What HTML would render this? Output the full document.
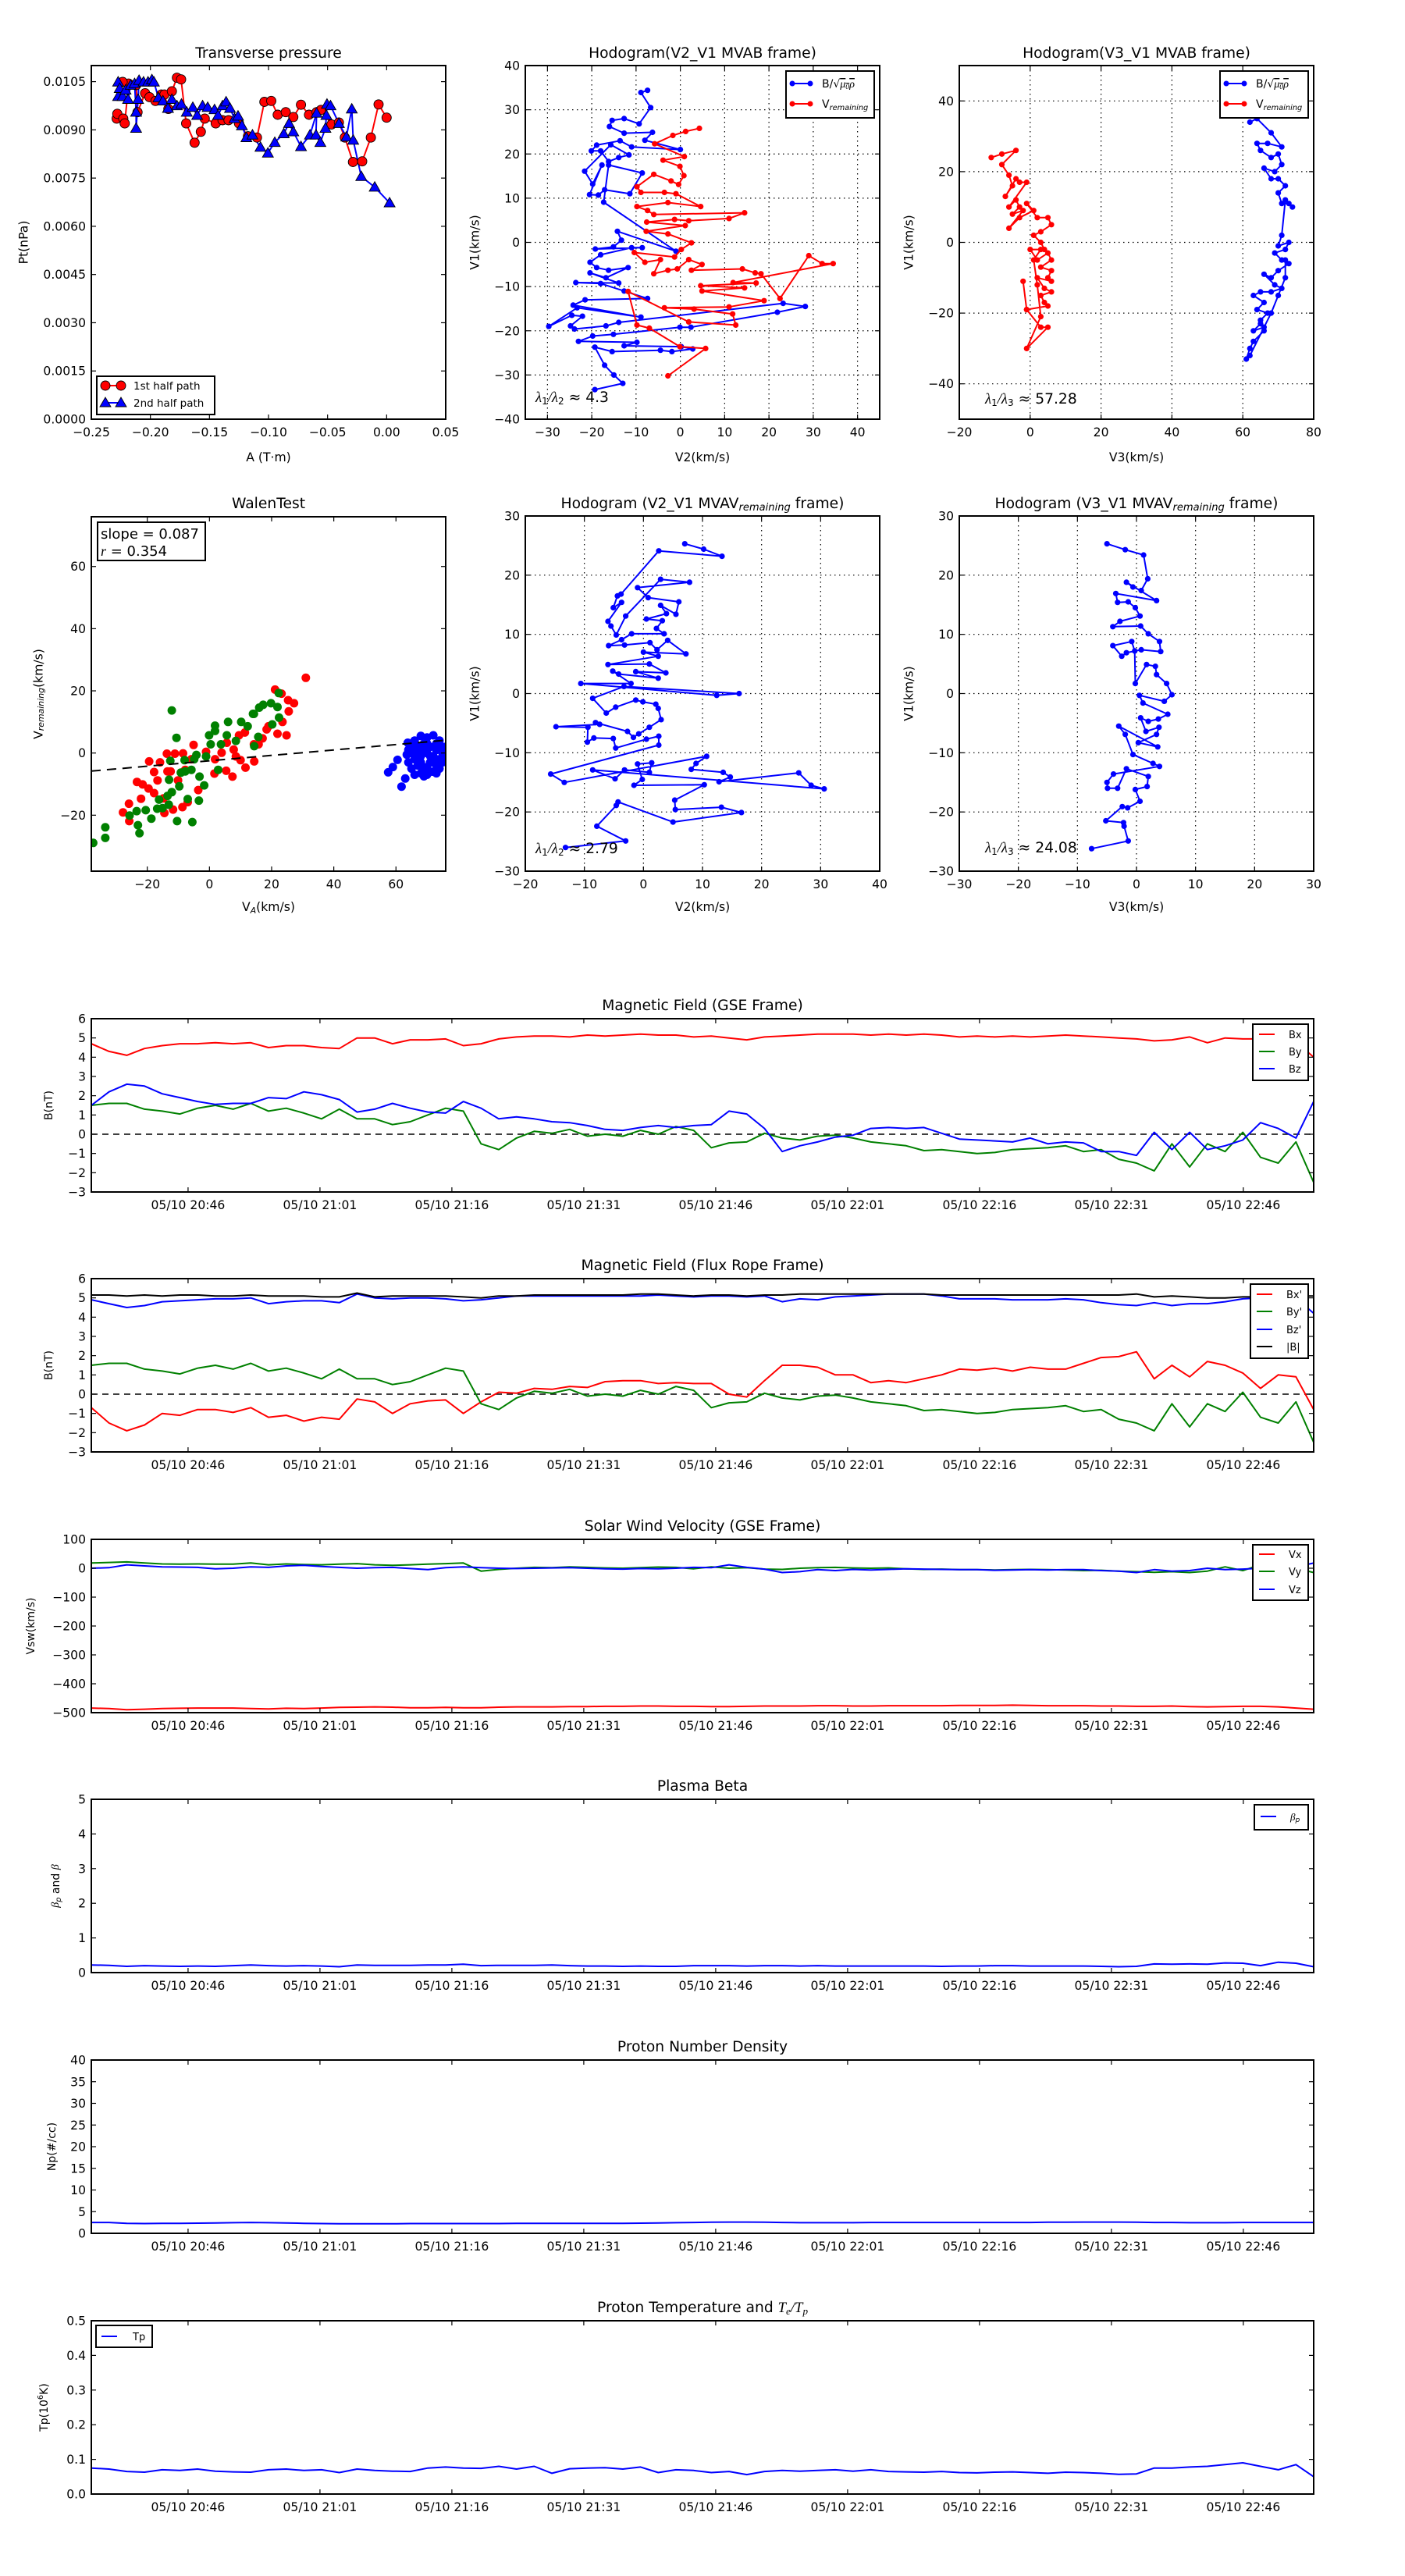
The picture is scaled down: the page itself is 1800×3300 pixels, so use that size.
<!DOCTYPE html>
<html><head><meta charset="utf-8"><style>
html,body{margin:0;padding:0;background:#fff;}
svg{display:block;font-family:"DejaVu Sans","Liberation Sans",sans-serif;}
</style></head><body>
<svg id="fig" xmlns="http://www.w3.org/2000/svg" width="1800" height="3300" viewBox="0 0 1800 3300"><defs id="defs"></defs><rect width="1800" height="3300" fill="#fff"/></svg>
<script>
// ---------- data: transverse pressure ----------
const ptA1=[-0.2285,-0.228,-0.223,-0.2217,-0.2184,-0.2235,-0.2121,-0.2109,-0.2045,-0.2008,-0.1957,-0.1907,-0.1881,-0.1848,-0.1818,-0.1775,-0.174,-0.1697,-0.1626,-0.1573,-0.154,-0.1447,-0.1389,-0.1338,-0.125,-0.1174,-0.1098,-0.1035,-0.0977,-0.0922,-0.0854,-0.079,-0.0725,-0.0657,-0.0593,-0.0556,-0.0467,-0.0404,-0.0354,-0.0285,-0.0207,-0.0134,-0.0068,0.0];
const ptP1=[0.00935,0.0095,0.00935,0.0092,0.01044,0.01049,0.01039,0.00955,0.01014,0.01002,0.0099,0.0101,0.0101,0.00965,0.0102,0.01062,0.01057,0.0092,0.0086,0.00894,0.00935,0.0092,0.0093,0.0093,0.0092,0.0088,0.00876,0.00987,0.0099,0.00947,0.00955,0.0094,0.00978,0.00947,0.00955,0.00962,0.00917,0.00923,0.00876,0.008,0.00802,0.00876,0.00979,0.00938];
const ptA2=[-0.2273,-0.2273,-0.226,-0.2235,-0.221,-0.2189,-0.2167,-0.2134,-0.2121,-0.2121,-0.2104,-0.2096,-0.2058,-0.202,-0.1987,-0.197,-0.1932,-0.1894,-0.1851,-0.1818,-0.1775,-0.1737,-0.1692,-0.1641,-0.1604,-0.1558,-0.1515,-0.1457,-0.1427,-0.1389,-0.1359,-0.1326,-0.1288,-0.1258,-0.1225,-0.1187,-0.1136,-0.1068,-0.1005,-0.0947,-0.0871,-0.0826,-0.079,-0.0725,-0.0649,-0.0593,-0.0598,-0.0561,-0.0518,-0.051,-0.0505,-0.0475,-0.0404,-0.0341,-0.0295,-0.0283,-0.0215,-0.0101,0.0025];
const ptP2=[0.01049,0.01004,0.01029,0.01004,0.01024,0.00995,0.01039,0.01044,0.00955,0.00905,0.00995,0.01054,0.01049,0.01049,0.01056,0.01049,0.01,0.0099,0.00967,0.00995,0.00975,0.0098,0.00955,0.0097,0.00945,0.00975,0.0097,0.00963,0.00945,0.00975,0.00987,0.00967,0.00935,0.00943,0.00913,0.00876,0.00884,0.00846,0.00828,0.00861,0.00888,0.0092,0.00894,0.00848,0.00884,0.00952,0.00884,0.00861,0.00905,0.00945,0.0098,0.00975,0.0092,0.00878,0.00965,0.00868,0.00755,0.00722,0.00673];
// ---------- hodogram V2_V1 MVAB ----------
const h1BlueX=[-7.4,-8.9,-6.7,-9.3,-12.7,-15.4,-16.0,-12.7,-6.3,-8.0,0,-11.0,-13.6,-18.9,-20.1,-18.0,-16.2,-13.9,-11.6,-15.7,-21.6,-19.8,-17.7,-20.5,-18.5,-17.1,-11.4,-8.6,-16.2,-17.3,-1.0,-14.2,-13.3,-15.1,-19.2,-8.6,-11.0,-18.0,-20.4,-18.9,-16.2,-11.8,-16.8,-20.4,-13.9,-23.6,-18.0,-12.7,-7.4,-21.5,-24.2,-8.9,-23.3,-29.7,-24.5,-22.1,-24.8,-23.9,-16.8,-13.9,23.2,28.2,21.9,2.4,-0.1,-15.1,-19.8,-23.0,-9.8,-12.7,0.2,2.8,-1.9,-4.5,-15.4,-19.3,-17.1,-15.0,-13.0,-19.3];
const h1BlueY=[34.4,33.9,30.5,26.8,28.0,27.6,26.2,24.7,24.9,23.1,21.0,21.6,23.0,22.0,20.7,20.7,18.3,19.2,19.8,22.1,16.1,13.2,17.5,10.8,10.7,11.9,11.0,15.7,17.5,9.1,-2.0,2.5,0.5,-1.0,-1.5,-1.2,-1.2,-2.8,-4.5,-5.7,-6.3,-5.7,-8.0,-6.9,-9.2,-9.1,-9.3,-11.0,-12.7,-13.0,-14.2,-16.9,-14.8,-19.0,-16.5,-16.7,-18.9,-19.6,-18.9,-18.1,-13.8,-14.5,-15.8,-19.2,-19.2,-20.8,-21.2,-22.4,-22.6,-23.4,-23.6,-24.1,-24.7,-24.4,-24.7,-23.7,-27.8,-30.0,-31.9,-33.3];
const h1RedX=[4.3,1.2,-1.7,-5.8,0.9,-3.9,-0.1,0.8,-0.4,-2.1,-6.0,-9.8,-8.9,-3.6,-1.0,4.6,-2.8,-9.8,-7.4,-6.0,14.5,11.0,1.9,-1.3,-7.6,1.1,-7.7,-2.8,2.5,0.2,-1.3,-10.4,-8.0,-4.5,-6.0,-2.8,-0.7,1.9,4.9,2.5,14.0,16.9,18.2,22.5,29.0,32.0,34.5,11.9,17.1,4.6,14.5,4.9,18.9,11.0,-3.6,3.1,11.8,12.5,1.9,-11.8,-9.8,-7.0,-0.1,5.7,-2.8];
const h1RedY=[25.8,25.1,24.2,22.3,19.4,18.6,17.2,15.1,13.1,13.9,15.4,12.6,11.3,11.3,11.0,8.1,9.0,8.1,7.2,6.3,6.7,5.4,4.9,5.2,4.6,3.8,2.5,1.9,-0.1,-1.6,-3.3,-2.3,-4.5,-3.9,-7.1,-6.3,-6.0,-3.9,-5.0,-6.3,-6.0,-6.9,-7.1,-12.7,-3.0,-4.8,-4.8,-9.1,-9.2,-9.8,-10.3,-11.0,-13.2,-14.6,-14.8,-15.1,-16.2,-18.7,-18.0,-11.1,-18.7,-19.4,-23.6,-24.0,-30.2];
// ---------- hodogram V3_V1 MVAB ----------
const h2RedX=[-11,-8,-4,-8,-6,-5,-7,-4,-3,-1,-6,-4,-3,-5,-2,-6,-3,1,-1,2,5,6,3,1,3,4,0,2,5,6,3,6,5,6,2,4,6,3,4,5,-1,-2,-1,3,5,-1,3,2,1,3];
const h2RedY=[24,25,26,22,19,16,13,18,17,17,10,12,10,8,9,4,7,9,11,7,7,5,3,2,0,-2,-2,-5,-3,-5,-7,-8,-10,-11,-10,-13,-14,-15,-17,-18,-19,-11,-19,-24,-24,-30,-21,-12,-5,-2];
const h2BlueX=[62,64,68,71,67,64,65,68,70,71,69,66,68,70,72,70,71,73,74,72,71,70,73,72,69,71,73,70,68,66,69,71,68,65,63,66,64,67,65,66,63,65,66,63,62,61,62,68,70,72,72];
const h2BlueY=[34,35,31,27,28,28,26,24,25,22,20,21,18,18,16,14,11,11,10,12,2,-1,0,-2,-3,-5,-6,-8,-10,-9,-12,-13,-14,-14,-15,-17,-19,-20,-22,-24,-25,-23,-25,-28,-30,-33,-32,-20,-15,-10,-5];
// ---------- Walen test ----------
const walRedX=[31,21.1,23.2,25.3,27.2,25.5,23.5,21.9,24.8,18.4,15.8,14.4,11.6,10.0,7.4,5.4,1.6,7.8,9.5,5.6,3.9,-5.1,-3.6,-8.5,-11.1,-13.7,-19.4,-15.9,-17.8,-16.7,-23.3,-21.5,-19.6,-17.8,-22.0,-25.9,-27.8,-25.8,-14.5,-11.7,-8.7,-7.0,-10.1,-12.5,-7.8,-5.8,-1.1,1.8,14.3,17.1,19.0,11.4,8.5,-13.5,-14.8];
const walRedY=[24.2,20.4,19.1,17.0,16.0,13.4,10.0,6.2,5.7,7.6,2.8,-2.7,-4.7,-2.3,-7.6,-5.7,-6.6,1.1,5.7,3.3,0.1,2.6,-11.9,-0.1,-0.2,-0.2,-2.7,-3.0,-6.1,-8.8,-9.3,-10.1,-11.4,-12.9,-14.7,-16.3,-19.1,-21.9,-19.3,-18.2,-17.4,-15.8,-8.8,-5.9,-5.4,-2.0,0.4,-2.0,2.8,4.7,8.6,6.6,-1.1,-5.9,-14.6];
const walGreenX=[-37.4,-33.5,-33.5,-25.7,-23.4,-23.0,-22.5,-20.5,-18.7,-16.2,-15.1,-13.1,-10.4,-5.5,-3.4,-7.0,-9.7,-13.0,-12.1,-1.7,-3.2,-12.1,-10.6,-12.6,-8.0,-9.2,-5.8,-4.2,-1.1,0.4,2.8,1.8,1.8,6.0,3.7,8.5,10.2,14.0,14.3,16.0,17.3,14.4,15.7,20.2,22.4,21.9,22.3,19.8,-0.1,5.6,12.3,-4.9,-7.8,-13.5,-16.8];
const walGreenY=[-28.9,-23.9,-27.3,-20.1,-18.7,-23.2,-25.8,-18.4,-21.1,-15.0,-17.7,-16.6,-21.9,-22.2,-15.3,-14.8,-10.7,-8.6,-12.6,-10.4,-7.6,13.7,4.9,-2.5,-2.3,-6.3,-5.4,-0.6,-1.1,2.8,-5.4,8.8,7.1,10.0,2.8,3.9,10.0,12.6,12.6,14.6,15.5,2.2,5.2,9.2,11.4,14.8,19.3,16.0,5.7,5.7,8.6,-2.0,-5.9,-13.8,-17.9];
const walBlueX=[57.5,59,60.5,63,61.8,63.5,63.8,66,68,70,72,74,75,73,71,69,67,65,66,68,70,72,74,75,73,71,69,67,65,66,68,70,72,74,76,76,69,71,67,64,70,73,68,70,72,75,66,64,69,71,73];
const walBlueY=[-6.2,-4.5,-2.2,-8.2,-10.8,-0.5,3.3,4,5.5,5,5.7,4,2,1,2,3,2,0,-2,-1,0,-1,-2,0,-4,-3,-5,-4,-5,-7,-6.5,-7,-6,-5,-1,2,1,-1,0,1,3,3,-3,-4.5,-3,-3,2,-3,-7.5,-6,-6.5];
const walSlope=0.087, walIntercept=-2.5;
// ---------- hodogram MVAV (V2_V1) ----------
const h3X=[7.0,10.2,13.3,2.6,-3.8,-4.4,-5.1,-3.7,-6.0,-5.5,-4.6,-3.0,2.9,7.8,-1.0,0.8,6.0,5.5,2.9,3.9,0.5,3.2,2.2,3.5,-2.0,-3.7,-5.9,-3.2,1.1,2.3,4.1,7.2,0,2.5,-6.0,1.0,3.8,-1.3,2.5,-4.2,-5.2,-2.1,-10.6,12.4,16.2,-3.3,-8.6,-6.3,-4.7,-1.3,-0.1,2.1,2.5,3.0,1.0,-0.8,-1.7,-2.7,-8.1,-7.4,-14.8,-9.4,-9.5,-8.4,-5.1,-4.7,0.5,2.6,2.6,-15.7,-13.4,10.7,8.9,8.1,13.5,14.7,12.8,26.3,28.4,30.6,-8.6,-4.8,-3.2,1.0,1.4,-1.0,-0.2,-1.6,10.3,5.3,5.4,13.2,16.6,5.0,-4.3,-4.6,-7.9,-3.0,-13.2];
const h3Y=[25.3,24.4,23.2,24.1,16.8,16.5,14.5,15.4,12.2,11.4,9.9,13.1,19.3,18.8,17.9,16.2,15.5,13.4,14.9,13.5,12.6,12.3,11.0,10.1,10.1,9.1,8.1,8.2,8.6,7.4,9.0,6.7,7.0,6.3,4.9,5.0,3.5,3.7,2.6,3.3,3.8,1.7,1.7,-0.3,0,1.2,-0.8,-3.3,-2.3,-1.1,-1.4,-1.8,-2.5,-4.4,-5.7,-6.8,-7.4,-6.4,-4.9,-5.2,-5.6,-5.7,-8.2,-7.5,-7.6,-9.2,-7.7,-7.2,-8.7,-13.6,-15.0,-10.6,-11.8,-12.8,-13.3,-14.1,-14.9,-13.4,-15.5,-16.1,-12.9,-14.4,-12.9,-13.3,-11.7,-11.9,-14.5,-15.5,-15.4,-18.0,-19.6,-19.2,-20.1,-21.7,-18.3,-18.9,-22.4,-24.9,-26.0];
// ---------- hodogram MVAV (V3_V1) ----------
const h4X=[-5.0,-1.9,1.2,1.9,0.8,-0.6,-1.7,3.4,-3.5,-3.2,-1.4,-0.2,0.6,-2.8,-4.0,0.7,2.0,3.9,4.1,0.8,-1.7,-2.5,-4.0,-0.8,-0.3,-0.2,1.7,3.2,3.4,5.1,6.0,4.7,0.5,1.1,5.3,3.7,2.0,0.7,1.6,3.8,3.4,0.3,3.6,-3.0,-1.9,-0.6,2.8,3.9,-3.9,-5.0,-4.9,-3.2,-1.7,2.0,1.8,-0.2,0.6,-1.5,-2.4,-5.2,-2.2,-2.1,-1.4,-7.6];
const h4Y=[25.3,24.3,23.4,19.4,17.4,18.0,18.8,15.7,16.9,15.4,15.5,14.5,13.1,12.2,11.3,11.4,10.1,8.8,7.1,7.4,6.9,6.3,8.1,8.8,7.2,1.7,4.9,4.6,3.2,1.7,-0.2,-1.3,-0.3,-1.6,-3.5,-4.3,-4.7,-4.1,-6.4,-5.7,-6.9,-8.3,-9.0,-5.5,-6.9,-10.3,-11.8,-12.3,-13.6,-15.0,-16.0,-16.0,-12.7,-14.0,-15.7,-16.2,-18.2,-19.3,-19.1,-21.5,-21.8,-22.4,-24.9,-26.2];
// ---------- time series ----------
const tickTimes=[11,26,41,56,71,86,101,116,131];
const tickLabels=["05/10 20:46","05/10 21:01","05/10 21:16","05/10 21:31","05/10 21:46","05/10 22:01","05/10 22:16","05/10 22:31","05/10 22:46"];
const bxGse=[4.7,4.3,4.1,4.45,4.6,4.7,4.7,4.75,4.7,4.75,4.5,4.6,4.6,4.5,4.45,5.0,5.0,4.7,4.9,4.9,4.95,4.6,4.7,4.95,5.05,5.1,5.1,5.05,5.15,5.1,5.15,5.2,5.15,5.15,5.05,5.1,5.0,4.9,5.05,5.1,5.15,5.2,5.2,5.2,5.15,5.2,5.15,5.2,5.15,5.05,5.1,5.05,5.1,5.05,5.1,5.15,5.1,5.05,5.0,4.95,4.85,4.9,5.05,4.75,5.0,4.95,4.95,4.95,4.8,4.0];
const byGse=[1.5,1.6,1.6,1.3,1.2,1.05,1.35,1.5,1.3,1.6,1.2,1.35,1.1,0.8,1.3,0.8,0.8,0.5,0.65,1.0,1.35,1.2,-0.5,-0.8,-0.2,0.15,0.05,0.25,-0.1,0.0,-0.1,0.2,0.0,0.4,0.2,-0.7,-0.45,-0.4,0.05,-0.2,-0.3,-0.1,-0.05,-0.2,-0.4,-0.5,-0.6,-0.85,-0.8,-0.9,-1.0,-0.95,-0.8,-0.75,-0.7,-0.6,-0.9,-0.8,-1.3,-1.5,-1.9,-0.5,-1.7,-0.5,-0.9,0.1,-1.2,-1.5,-0.4,-2.5];
const bzGse=[1.5,2.2,2.6,2.5,2.1,1.9,1.7,1.55,1.6,1.6,1.9,1.85,2.2,2.05,1.8,1.15,1.3,1.6,1.35,1.15,1.1,1.7,1.35,0.8,0.9,0.8,0.65,0.6,0.45,0.25,0.2,0.35,0.45,0.35,0.45,0.5,1.2,1.05,0.3,-0.9,-0.6,-0.4,-0.15,-0.05,0.3,0.35,0.3,0.35,0.05,-0.25,-0.3,-0.35,-0.4,-0.2,-0.5,-0.4,-0.45,-0.9,-0.9,-1.1,0.1,-0.8,0.1,-0.8,-0.6,-0.3,0.6,0.3,-0.2,1.7];
const bxFr=[-0.7,-1.5,-1.9,-1.6,-1.0,-1.1,-0.8,-0.8,-0.95,-0.7,-1.2,-1.1,-1.4,-1.2,-1.3,-0.25,-0.4,-1.0,-0.5,-0.35,-0.3,-1.0,-0.4,0.1,0.05,0.3,0.25,0.4,0.35,0.65,0.7,0.7,0.55,0.6,0.55,0.55,0.0,-0.15,0.7,1.5,1.5,1.4,1.0,1.0,0.6,0.7,0.6,0.8,1.0,1.3,1.25,1.35,1.2,1.4,1.3,1.3,1.6,1.9,1.95,2.2,0.8,1.5,0.9,1.7,1.5,1.1,0.3,1.0,0.9,-0.8];
const byFr=[1.5,1.6,1.6,1.3,1.2,1.05,1.35,1.5,1.3,1.6,1.2,1.35,1.1,0.8,1.3,0.8,0.8,0.5,0.65,1.0,1.35,1.2,-0.5,-0.8,-0.2,0.15,0.05,0.25,-0.1,0.0,-0.1,0.2,0.0,0.4,0.2,-0.7,-0.45,-0.4,0.05,-0.2,-0.3,-0.1,-0.05,-0.2,-0.4,-0.5,-0.6,-0.85,-0.8,-0.9,-1.0,-0.95,-0.8,-0.75,-0.7,-0.6,-0.9,-0.8,-1.3,-1.5,-1.9,-0.5,-1.7,-0.5,-0.9,0.1,-1.2,-1.5,-0.4,-2.5];
const bzFr=[4.9,4.7,4.5,4.6,4.8,4.85,4.9,4.95,4.95,5.0,4.7,4.8,4.85,4.85,4.75,5.2,5.0,4.95,5.0,5.0,4.95,4.85,4.9,5.0,5.1,5.1,5.1,5.1,5.1,5.1,5.1,5.1,5.15,5.1,5.05,5.1,5.1,5.05,5.1,4.8,4.95,4.9,5.05,5.1,5.15,5.2,5.2,5.2,5.1,4.95,4.95,4.95,4.9,4.9,4.9,4.95,4.9,4.75,4.65,4.6,4.75,4.6,4.7,4.7,4.8,4.95,5.0,5.0,5.0,4.2];
const bMag=[5.15,5.15,5.1,5.15,5.1,5.15,5.15,5.1,5.1,5.15,5.1,5.1,5.1,5.05,5.05,5.25,5.05,5.1,5.1,5.1,5.1,5.05,5.0,5.1,5.1,5.15,5.15,5.15,5.15,5.15,5.15,5.2,5.2,5.15,5.1,5.15,5.15,5.1,5.15,5.15,5.2,5.2,5.2,5.2,5.2,5.2,5.2,5.2,5.15,5.15,5.15,5.15,5.15,5.15,5.15,5.15,5.15,5.15,5.15,5.2,5.05,5.1,5.05,5.0,5.0,5.05,5.05,5.1,5.1,5.1];
const vx=[-484,-486,-490,-488,-486,-485,-484,-484,-484,-486,-487,-485,-486,-484,-482,-481,-480,-481,-483,-483,-482,-483,-483,-481,-480,-480,-480,-479,-479,-478,-478,-477,-477,-478,-478,-479,-479,-478,-477,-477,-477,-476,-476,-477,-477,-476,-476,-476,-476,-475,-475,-475,-474,-475,-476,-476,-476,-477,-477,-478,-478,-477,-479,-480,-479,-478,-478,-480,-484,-488];
const vy=[18,20,22,18,15,14,15,14,14,18,12,15,13,12,14,16,12,10,12,14,16,18,-10,-4,0,3,2,5,3,1,0,2,4,3,-2,5,0,2,-3,-4,0,2,3,1,0,1,-2,-4,-3,-5,-5,-6,-5,-4,-5,-6,-8,-7,-10,-12,-14,-12,-15,-10,5,-8,12,-5,0,-15];
const vz=[0,2,12,8,5,4,3,-2,0,5,3,8,10,6,3,0,2,3,-1,-5,2,5,2,0,-1,0,1,2,0,-2,-3,-1,-2,0,3,2,12,3,-3,-15,-12,-5,-8,-4,-6,-4,-2,-3,-4,-5,-5,-7,-6,-5,-6,-5,-5,-8,-10,-15,-5,-10,-8,0,-5,-3,0,8,5,18];
const betaP=[0.22,0.21,0.18,0.2,0.19,0.18,0.19,0.18,0.2,0.22,0.2,0.19,0.2,0.19,0.17,0.22,0.21,0.21,0.21,0.22,0.22,0.24,0.2,0.21,0.21,0.21,0.22,0.2,0.19,0.19,0.18,0.19,0.18,0.18,0.2,0.2,0.2,0.19,0.2,0.2,0.19,0.2,0.19,0.19,0.19,0.19,0.19,0.19,0.18,0.19,0.19,0.2,0.2,0.19,0.19,0.19,0.19,0.18,0.17,0.18,0.25,0.24,0.25,0.24,0.28,0.27,0.2,0.3,0.27,0.17];
const np=[2.5,2.5,2.3,2.25,2.3,2.3,2.35,2.4,2.45,2.5,2.45,2.4,2.3,2.25,2.2,2.2,2.2,2.2,2.25,2.25,2.25,2.25,2.25,2.25,2.3,2.3,2.3,2.3,2.3,2.3,2.3,2.35,2.4,2.45,2.5,2.55,2.6,2.6,2.55,2.5,2.45,2.45,2.45,2.45,2.5,2.5,2.5,2.5,2.5,2.5,2.5,2.5,2.5,2.5,2.55,2.55,2.6,2.6,2.6,2.55,2.5,2.5,2.45,2.45,2.45,2.5,2.5,2.5,2.5,2.5];
const tp=[0.075,0.072,0.065,0.063,0.07,0.068,0.072,0.066,0.064,0.063,0.07,0.072,0.068,0.07,0.062,0.072,0.068,0.066,0.065,0.075,0.078,0.075,0.074,0.08,0.072,0.08,0.06,0.073,0.075,0.076,0.072,0.078,0.062,0.07,0.068,0.062,0.065,0.056,0.065,0.068,0.066,0.068,0.07,0.066,0.07,0.065,0.064,0.063,0.065,0.062,0.061,0.063,0.064,0.062,0.06,0.063,0.062,0.06,0.057,0.058,0.075,0.075,0.078,0.08,0.085,0.09,0.08,0.07,0.085,0.05];

// ---------- helpers ----------
const NS='http://www.w3.org/2000/svg';
const svg=document.getElementById('fig');
const defs=document.getElementById('defs');
function add(parent,tag,attrs,text){const e=document.createElementNS(NS,tag);for(const k in attrs)e.setAttribute(k,attrs[k]);if(text!==undefined)e.textContent=text;parent.appendChild(e);return e;}
function fmtNum(v,d){const s=Math.abs(v).toFixed(d);return (v<-1e-12?'\u2212':'')+s;}
let clipN=0;
function mkAxes(name,L,R,T,B,xmin,xmax,ymin,ymax){
  const g=add(svg,'g',{});
  
  
  const id='clip'+(clipN++);
  const cp=add(defs,'clipPath',{id:id});add(cp,'rect',{x:L,y:T,width:R-L,height:B-T});
  const under=add(g,'g',{});
  const plot=add(g,'g',{'clip-path':'url(#'+id+')'});
  
  
  const over=add(g,'g',{});
  return {g,under,plot,over,L,R,T,B,sx:v=>L+(v-xmin)/(xmax-xmin)*(R-L),sy:v=>B-(v-ymin)/(ymax-ymin)*(B-T)};
}
function axisTicks(ax,xt,xl,yt,yl,grid,fs){
  fs=fs||15.6;
  xt.forEach((v,i)=>{const x=ax.sx(v);
    if(grid)add(ax.under,'line',{x1:x,x2:x,y1:ax.T,y2:ax.B,stroke:'#000','stroke-width':1.2,'stroke-dasharray':'1.5,4.5'});
    add(ax.over,'line',{x1:x,x2:x,y1:ax.B,y2:ax.B-6,stroke:'#000','stroke-width':1.2});
    add(ax.over,'line',{x1:x,x2:x,y1:ax.T,y2:ax.T+6,stroke:'#000','stroke-width':1.2});
    const t=add(ax.over,'text',{x:x,y:ax.B+22,'font-size':fs,'text-anchor':'middle'},xl[i]);
    
    
  });
  yt.forEach((v,i)=>{const y=ax.sy(v);
    if(grid)add(ax.under,'line',{x1:ax.L,x2:ax.R,y1:y,y2:y,stroke:'#000','stroke-width':1.2,'stroke-dasharray':'1.5,4.5'});
    add(ax.over,'line',{x1:ax.L,x2:ax.L+6,y1:y,y2:y,stroke:'#000','stroke-width':1.2});
    add(ax.over,'line',{x1:ax.R,x2:ax.R-6,y1:y,y2:y,stroke:'#000','stroke-width':1.2});
    const t=add(ax.over,'text',{x:ax.L-7,y:y+5.5,'font-size':fs,'text-anchor':'end'},yl[i]);
    
    
  });
  const fr=add(ax.over,'rect',{x:ax.L,y:ax.T,width:ax.R-ax.L,height:ax.B-ax.T,fill:'none',stroke:'#000','stroke-width':2});
  
  
}
function title(ax,html,y){const t=add(ax.over,'text',{x:(ax.L+ax.R)/2,y:y,'font-size':18.7,'text-anchor':'middle'});t.innerHTML=html;
  
  }
function xlabel(ax,html,y){const t=add(ax.over,'text',{x:(ax.L+ax.R)/2,y:y,'font-size':15.6,'text-anchor':'middle'});t.innerHTML=html;
  
  }
function ylabel(ax,html,x,fs){const cy=(ax.T+ax.B)/2;const t=add(ax.over,'text',{x:x,y:cy,'font-size':fs||15.6,'text-anchor':'middle','dominant-baseline':'middle',transform:'rotate(-90 '+x+' '+cy+')'});t.innerHTML=html;
  
  }
function range(a,b,s){const r=[];for(let v=a;v<=b+1e-9;v+=s)r.push(+v.toFixed(6));return r;}
function pathLine(ax,xs,ys,color,name,w){const pts=xs.map((x,i)=>ax.sx(x).toFixed(1)+','+ax.sy(ys[i]).toFixed(1)).join(' ');
  const p=add(ax.plot,'polyline',{points:pts,fill:'none',stroke:color,'stroke-width':w||2,'stroke-linejoin':'round'});
  
  return p;}
function dots(ax,xs,ys,color,r,name,edge){const g=add(ax.plot,'g',{fill:color,stroke:edge||'none','stroke-width':edge?0.9:0});
  
  
  xs.forEach((x,i)=>{add(g,'circle',{cx:ax.sx(x).toFixed(1),cy:ax.sy(ys[i]).toFixed(1),r:r});});}
function tris(ax,xs,ys,color,s,name){const g=add(ax.plot,'g',{fill:color,stroke:'#000','stroke-width':0.9});
  
  
  xs.forEach((x,i)=>{const cx=ax.sx(x),cy=ax.sy(ys[i]);add(g,'polygon',{points:`${cx},${cy-s} ${cx-s},${cy+s*0.75} ${cx+s},${cy+s*0.75}`});});}
const sub=(s)=>`<tspan font-size="0.7em" baseline-shift="-25%" font-style="italic">${s}</tspan>`;
function lambdaText(ax,x,y,a,b,val){const t=add(ax.over,'text',{x:x,y:y,'font-size':18.7});
  t.innerHTML=`<tspan font-family="Liberation Serif,serif" font-style="italic">λ</tspan><tspan font-size="12" baseline-shift="-25%">${a}</tspan><tspan font-family="Liberation Serif,serif" font-style="italic">/λ</tspan><tspan font-size="12" baseline-shift="-25%">${b}</tspan> ≈ ${val}`;
  
  }
function legendBox(ax,x,y,w,h){const r=add(ax.over,'rect',{x:x,y:y,width:w,height:h,fill:'#fff',stroke:'#000','stroke-width':2});
  
  }
function legendEntry(ax,x1,x2,y,color,label,tx,fs,marker){
  const g=add(ax.over,'g',{});
  
  
  add(g,'line',{x1:x1,x2:x2,y1:y,y2:y,stroke:color,'stroke-width':2});
  if(marker==='dot'){add(g,'circle',{cx:x1,cy:y,r:3.5,fill:color});add(g,'circle',{cx:x2,cy:y,r:3.5,fill:color});}
  if(marker==='big'){add(g,'circle',{cx:x1,cy:y,r:6,fill:color,stroke:'#000','stroke-width':0.9});add(g,'circle',{cx:x2,cy:y,r:6,fill:color,stroke:'#000','stroke-width':0.9});}
  if(marker==='tri'){[x1,x2].forEach(cx=>add(g,'polygon',{points:`${cx},${y-7} ${cx-7},${y+5} ${cx+7},${y+5}`,fill:color,stroke:'#000','stroke-width':0.9}));}
  const t=add(g,'text',{x:tx,y:y+5,'font-size':fs||13});t.innerHTML=label;}

// ---------- 1. Transverse pressure ----------
{const ax=mkAxes('transverse-pressure-chart',117,571,84,537,-0.25,0.05,0,0.011);
 const xt=range(-0.25,0.05,0.05), yt=range(0,0.0105,0.0015);
 axisTicks(ax,xt,xt.map(v=>fmtNum(v,2)),yt,yt.map(v=>fmtNum(v,4)),false);
 pathLine(ax,ptA1,ptP1,'#ff0000','first-half-path-line',2);
 pathLine(ax,ptA2,ptP2,'#0000ff','second-half-path-line',2);
 dots(ax,ptA1,ptP1,'#ff0000',6,'first-half-markers','#000');
 tris(ax,ptA2,ptP2,'#0000ff',7,'second-half-markers');
 title(ax,'Transverse pressure',74);xlabel(ax,'A (T·m)',591);ylabel(ax,'Pt(nPa)',31);
 legendBox(ax,124,482,151,49);
 legendEntry(ax,135,155,494,'#ff0000','1st half path',171,13.5,'big');
 legendEntry(ax,135,155,516,'#0000ff','2nd half path',171,13.5,'tri');}

// ---------- 2. Hodogram V2_V1 MVAB ----------
const legB='B/√<tspan text-decoration="overline" font-style="italic" font-family="Liberation Serif,serif">μ<tspan font-size="0.7em" baseline-shift="-20%">0</tspan>ρ</tspan>';
const legV='V'+sub('remaining');
{const ax=mkAxes('hodogram-v2-v1-mvab',673,1127,84,537,-35,45,-40,40);
 const xt=range(-30,40,10), yt=range(-40,40,10);
 axisTicks(ax,xt,xt.map(v=>fmtNum(v,0)),yt,yt.map(v=>fmtNum(v,0)),true);
 pathLine(ax,h1BlueX,h1BlueY,'#0000ff','b-alfven-path');dots(ax,h1BlueX,h1BlueY,'#0000ff',3.6,'b-alfven-points');
 pathLine(ax,h1RedX,h1RedY,'#ff0000','v-remaining-path');dots(ax,h1RedX,h1RedY,'#ff0000',3.6,'v-remaining-points');
 title(ax,'Hodogram(V2_V1 MVAB frame)',74);xlabel(ax,'V2(km/s)',591);ylabel(ax,'V1(km/s)',609);
 lambdaText(ax,686,515,'1','2','4.3');
 legendBox(ax,1007,91,113,60);
 legendEntry(ax,1015,1038,107,'#0000ff',legB,1053,14,'dot');
 legendEntry(ax,1015,1038,133,'#ff0000',legV,1053,14,'dot');}

// ---------- 3. Hodogram V3_V1 MVAB ----------
{const ax=mkAxes('hodogram-v3-v1-mvab',1229,1683,84,537,-20,80,-50,50);
 const xt=range(-20,80,20), yt=range(-40,40,20);
 axisTicks(ax,xt,xt.map(v=>fmtNum(v,0)),yt,yt.map(v=>fmtNum(v,0)),true);
 pathLine(ax,h2BlueX,h2BlueY,'#0000ff','b-alfven-path');dots(ax,h2BlueX,h2BlueY,'#0000ff',3.6,'b-alfven-points');
 pathLine(ax,h2RedX,h2RedY,'#ff0000','v-remaining-path');dots(ax,h2RedX,h2RedY,'#ff0000',3.6,'v-remaining-points');
 title(ax,'Hodogram(V3_V1 MVAB frame)',74);xlabel(ax,'V3(km/s)',591);ylabel(ax,'V1(km/s)',1165);
 lambdaText(ax,1262,517,'1','3','57.28');
 legendBox(ax,1563,91,113,60);
 legendEntry(ax,1571,1594,107,'#0000ff',legB,1609,14,'dot');
 legendEntry(ax,1571,1594,133,'#ff0000',legV,1609,14,'dot');}

// ---------- 4. Walen test ----------
{const ax=mkAxes('walen-test-chart',117,571,662,1116,-38,76,-38,76);
 const xt=range(-20,60,20), yt=range(-20,60,20);
 axisTicks(ax,xt,xt.map(v=>fmtNum(v,0)),yt,yt.map(v=>fmtNum(v,0)),false);
 dots(ax,walRedX,walRedY,'#ff0000',5.5,'walen-red-points');
 dots(ax,walGreenX,walGreenY,'#008000',5.5,'walen-green-points');
 dots(ax,walBlueX,walBlueY,'#0000ff',5.5,'walen-blue-points');
 const fx=[-38,76];const l=add(ax.plot,'line',{x1:ax.sx(fx[0]),y1:ax.sy(walSlope*fx[0]+walIntercept),x2:ax.sx(fx[1]),y2:ax.sy(walSlope*fx[1]+walIntercept),stroke:'#000','stroke-width':2,'stroke-dasharray':'12,8'});
 
 
 title(ax,'WalenTest',651);xlabel(ax,'V'+sub('A')+'(km/s)',1167);ylabel(ax,'V'+sub('remaining')+'(km/s)',50);
 const b=add(ax.over,'rect',{x:125,y:669,width:138,height:49,fill:'#fff',stroke:'#000','stroke-width':2});
 
 
 add(ax.over,'text',{x:129,y:690,'font-size':18},'slope = 0.087');
 const r=add(ax.over,'text',{x:129,y:712,'font-size':18});r.innerHTML='<tspan font-style="italic" font-family="Liberation Serif,serif">r</tspan> = 0.354';}

// ---------- 5. Hodogram MVAV V2_V1 ----------
{const ax=mkAxes('hodogram-v2-v1-mvav',673,1127,661,1116,-20,40,-30,30);
 const xt=range(-20,40,10), yt=range(-30,30,10);
 axisTicks(ax,xt,xt.map(v=>fmtNum(v,0)),yt,yt.map(v=>fmtNum(v,0)),true);
 pathLine(ax,h3X,h3Y,'#0000ff','hodogram-path');dots(ax,h3X,h3Y,'#0000ff',3.6,'hodogram-points');
 title(ax,'Hodogram (V2_V1 MVAV'+sub('remaining')+' frame)',651);xlabel(ax,'V2(km/s)',1167);ylabel(ax,'V1(km/s)',609);
 lambdaText(ax,686,1093,'1','2','2.79');}

// ---------- 6. Hodogram MVAV V3_V1 ----------
{const ax=mkAxes('hodogram-v3-v1-mvav',1229,1683,661,1116,-30,30,-30,30);
 const xt=range(-30,30,10), yt=range(-30,30,10);
 axisTicks(ax,xt,xt.map(v=>fmtNum(v,0)),yt,yt.map(v=>fmtNum(v,0)),true);
 pathLine(ax,h4X,h4Y,'#0000ff','hodogram-path');dots(ax,h4X,h4Y,'#0000ff',3.6,'hodogram-points');
 title(ax,'Hodogram (V3_V1 MVAV'+sub('remaining')+' frame)',651);xlabel(ax,'V3(km/s)',1167);ylabel(ax,'V1(km/s)',1165);
 lambdaText(ax,1262,1092,'1','3','24.08');}

// ---------- time series panels ----------
const N=bxGse.length;
const tMin=bxGse.map((_,i)=>i*139/(N-1));
function tsPanel(name,T,ymin,ymax,yt,ylab,ttl,ylx,dash){
  const ax=mkAxes(name,117,1683,T,T+222,0,139,ymin,ymax);
  const d=yt.map(v=>fmtNum(v,ymax<=1?1:0));
  axisTicks(ax,tickTimes,tickLabels,yt,d,false);
  if(dash){const l=add(ax.plot,'line',{x1:ax.L,x2:ax.R,y1:ax.sy(0),y2:ax.sy(0),stroke:'#000','stroke-width':1.4,'stroke-dasharray':'8,6'});
    
    }
  title(ax,ttl,T-11);ylabel(ax,ylab,ylx,14);return ax;}
{const ax=tsPanel('magnetic-field-gse-chart',1305,-3,6,range(-3,6,1),'B(nT)','Magnetic Field (GSE Frame)',63,true);
 pathLine(ax,tMin,bxGse,'#ff0000','bx-line');pathLine(ax,tMin,byGse,'#008000','by-line');pathLine(ax,tMin,bzGse,'#0000ff','bz-line');
 legendBox(ax,1605,1312,71,72);
 legendEntry(ax,1613,1633,1325,'#ff0000','Bx',1651,13);legendEntry(ax,1613,1633,1347,'#008000','By',1651,13);legendEntry(ax,1613,1633,1369,'#0000ff','Bz',1651,13);}
{const ax=tsPanel('magnetic-field-flux-rope-chart',1638,-3,6,range(-3,6,1),'B(nT)','Magnetic Field (Flux Rope Frame)',63,true);
 pathLine(ax,tMin,bxFr,'#ff0000','bx-prime-line');pathLine(ax,tMin,byFr,'#008000','by-prime-line');pathLine(ax,tMin,bzFr,'#0000ff','bz-prime-line');pathLine(ax,tMin,bMag,'#000000','b-magnitude-line');
 legendBox(ax,1602,1645,74,95);
 legendEntry(ax,1610,1630,1658,'#ff0000',"Bx'",1648,13);legendEntry(ax,1610,1630,1680,'#008000',"By'",1648,13);legendEntry(ax,1610,1630,1703,'#0000ff',"Bz'",1648,13);legendEntry(ax,1610,1630,1725,'#000000','|B|',1648,13);}
{const ax=tsPanel('solar-wind-velocity-chart',1972,-500,100,range(-500,100,100),'Vsw(km/s)','Solar Wind Velocity (GSE Frame)',40,false);
 pathLine(ax,tMin,vx,'#ff0000','vx-line');pathLine(ax,tMin,vy,'#008000','vy-line');pathLine(ax,tMin,vz,'#0000ff','vz-line');
 legendBox(ax,1605,1979,71,71);
 legendEntry(ax,1613,1633,1991,'#ff0000','Vx',1651,13);legendEntry(ax,1613,1633,2013,'#008000','Vy',1651,13);legendEntry(ax,1613,1633,2036,'#0000ff','Vz',1651,13);}
{const ax=tsPanel('plasma-beta-chart',2305,0,5,range(0,5,1),'<tspan font-style="italic" font-family="Liberation Serif,serif">β</tspan>'+sub('p')+' and <tspan font-style="italic" font-family="Liberation Serif,serif">β</tspan>','Plasma Beta',72,false);
 pathLine(ax,tMin,betaP,'#0000ff','beta-p-line');
 legendBox(ax,1607,2312,69,32);
 legendEntry(ax,1615,1635,2327,'#0000ff','<tspan font-style="italic" font-family="Liberation Serif,serif">β</tspan>'+sub('p'),1653,13);}
{const ax=tsPanel('proton-density-chart',2639,0,40,range(0,40,5),'Np(#/cc)','Proton Number Density',67,false);
 pathLine(ax,tMin,np,'#0000ff','density-line');}
{const ax=tsPanel('proton-temperature-chart',2973,0,0.5,range(0,0.5,0.1),'Tp(10<tspan font-size="0.7em" baseline-shift="super">6</tspan>K)','Proton Temperature and <tspan font-style="italic" font-family="Liberation Serif,serif">T<tspan font-size="0.7em" baseline-shift="-25%">e</tspan>/T<tspan font-size="0.7em" baseline-shift="-25%">p</tspan></tspan>',57,false);
 pathLine(ax,tMin,tp,'#0000ff','temperature-line');
 legendBox(ax,123,2979,72,28);
 legendEntry(ax,130,150,2993,'#0000ff','Tp',170,13);}
</script>
</body></html>
